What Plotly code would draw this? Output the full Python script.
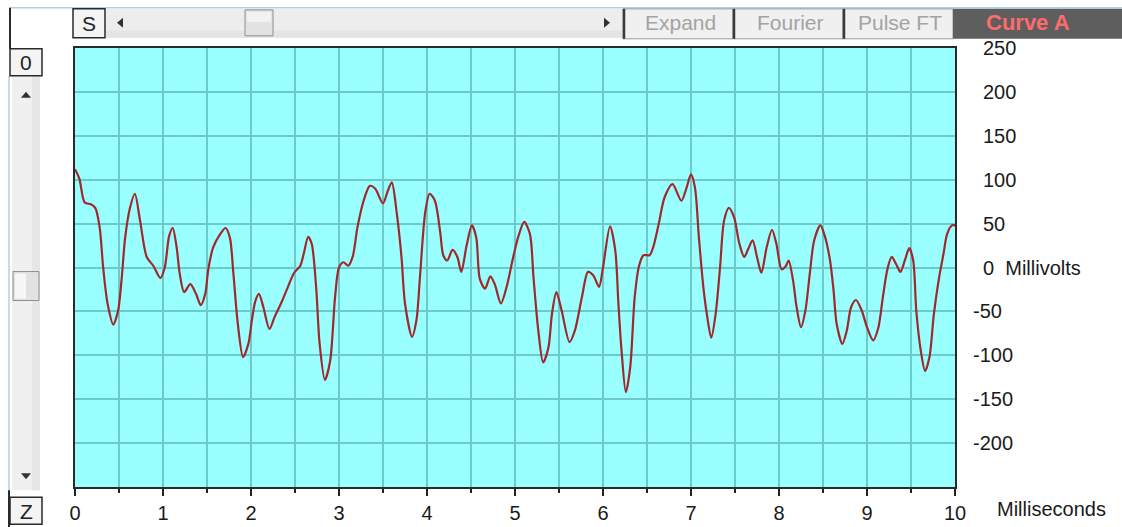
import plotly.graph_objects as go

# ---------------- data ----------------
time_ms = [0.0, 0.05, 0.11, 0.18, 0.23, 0.28, 0.32, 0.37, 0.435, 0.49, 0.53, 0.57, 0.625, 0.68, 0.74,
           0.815, 0.89, 0.97, 1.02, 1.07, 1.11, 1.155, 1.19, 1.24, 1.31, 1.375, 1.43, 1.48, 1.515, 1.57,
           1.65, 1.71, 1.76, 1.80, 1.85, 1.91, 1.97, 2.01, 2.05, 2.09, 2.14, 2.21, 2.27, 2.35, 2.42,
           2.49, 2.56, 2.60, 2.65, 2.69, 2.74, 2.78, 2.84, 2.90, 2.955, 3.0, 3.05, 3.105, 3.155, 3.21,
           3.28, 3.35, 3.41, 3.50, 3.55, 3.60, 3.655, 3.71, 3.75, 3.83, 3.88, 3.92, 3.98, 4.03, 4.09,
           4.15, 4.185, 4.23, 4.29, 4.345, 4.39, 4.45, 4.51, 4.56, 4.60, 4.66, 4.72, 4.77, 4.84, 4.905,
           4.98, 5.04, 5.105, 5.17, 5.21, 5.265, 5.32, 5.38, 5.42, 5.47, 5.53, 5.62, 5.68, 5.76, 5.83,
           5.89, 5.955, 6.0, 6.08, 6.14, 6.175, 6.21, 6.26, 6.31, 6.36, 6.41, 6.46, 6.53, 6.57, 6.63,
           6.70, 6.79, 6.89, 6.95, 7.0, 7.045, 7.09, 7.14, 7.18, 7.23, 7.28, 7.33, 7.375, 7.43, 7.49,
           7.55, 7.605, 7.65, 7.70, 7.75, 7.80, 7.86, 7.92, 7.97, 8.03, 8.08, 8.11, 8.16, 8.20, 8.25,
           8.30, 8.35, 8.40, 8.47, 8.52, 8.58, 8.62, 8.655, 8.72, 8.77, 8.82, 8.875, 8.94, 9.0, 9.07,
           9.13, 9.18, 9.23, 9.28, 9.33, 9.38, 9.43, 9.48, 9.525, 9.56, 9.61, 9.66, 9.71, 9.76, 9.82,
           9.87, 9.91, 9.965, 10.0]
millivolts = [112, 101, 74, 72, 68, 46, 0, -41, -65, -49, -13, 34, 68, 84, 53,
              12, 2, -12, 0, 36, 45, 23, -7, -28, -19, -30, -43, -30, -2, 23,
              38, 45, 34, -7, -64, -102, -87, -60, -38, -30, -45, -70, -56, -39, -22,
              -6, 2, 16, 35, 27, -22, -87, -128, -106, -34, 0, 6, 2, 12, 46,
              76, 93, 90, 73, 86, 97, 63, 12, -41, -79, -60, -11, 63, 84, 76,
              40, 14, 8, 20, 12, -5, 25, 48, 34, -13, -24, -10, -19, -41, -22,
              12, 36, 52, 38, -11, -72, -108, -91, -53, -28, -49, -85, -72, -34, -5,
              -9, -22, 0, 47, 19, -41, -94, -142, -113, -34, 2, 14, 14, 23, 48,
              80, 95, 76, 91, 106, 91, 34, -22, -53, -80, -53, 0, 53, 68, 57,
              27, 12, 21, 31, 12, -6, 23, 43, 27, -2, 2, 8, -15, -45, -68,
              -49, -7, 31, 48, 36, 8, -26, -64, -87, -72, -45, -37, -49, -68, -83,
              -68, -34, -3, 12, 4, -5, 8, 22, 8, -49, -94, -118, -102, -53, -11,
              16, 38, 48, 48]

x_ticks = [0, 1, 2, 3, 4, 5, 6, 7, 8, 9, 10]
y_tick_vals = [250, 200, 150, 100, 50, 0, -50, -100, -150, -200]
y_tick_labels = ["250", "200", "150", "100", "50", "0", "-50", "-100", "-150", "-200"]
y_title = "Millivolts"
x_title = "Milliseconds"
buttons = ["Expand", "Fourier", "Pulse FT"]
curve_name = "Curve A"

# ---------------- layout geometry ----------------
W, H = 1122, 536
SY = H / 527.0
L, R = 75, 955
T, B = round(47 * SY), round(487 * SY)
FONT = "Liberation Sans Narrow, Arial Narrow, Liberation Sans, Arial, sans-serif"


def px(x):
    return (x - L) / (R - L)


def py(y):
    return (B - y * SY) / (B - T)


def ylabel(s):
    s = s if s.startswith("-") else "\u2002" + s
    if s.strip() == "0":
        s = s + "\u00a0\u00a0" + y_title
    return s


fig = go.Figure()
fig.add_trace(go.Scatter(
    x=time_ms, y=millivolts, mode="lines",
    line=dict(color="#A0282A", width=2.2, shape="spline", smoothing=0.8),
    hoverinfo="skip", showlegend=False,
))

shapes = []
annotations = []


def rect(x0, y0, x1, y1, fill, line_color="rgba(0,0,0,0)", lw=0):
    shapes.append(dict(type="rect", xref="paper", yref="paper",
                       x0=px(x0), x1=px(x1), y0=py(y0), y1=py(y1),
                       fillcolor=fill, line=dict(color=line_color, width=lw), layer="above"))


def line(x0, y0, x1, y1, color, lw=1):
    shapes.append(dict(type="line", xref="paper", yref="paper",
                       x0=px(x0), x1=px(x1), y0=py(y0), y1=py(y1),
                       line=dict(color=color, width=lw), layer="above"))


def tri(points, color):
    path = "M " + " L ".join(f"{px(a)},{py(b)}" for a, b in points) + " Z"
    shapes.append(dict(type="path", xref="paper", yref="paper", path=path,
                       fillcolor=color, line=dict(color=color, width=0), layer="above"))


def text(x, y, s, size, color="#222", bold=False, anchor="center"):
    annotations.append(dict(xref="paper", yref="paper", x=px(x), y=py(y), text=(f"<b>{s}</b>" if bold else s),
                            showarrow=False, xanchor=anchor, yanchor="middle",
                            font=dict(family=FONT, size=size, color=color)))


# top edge line
line(10, 7, W, 7, "#B4CDE6", 1.5)
# top scrollbar
rect(106, 8, 622, 37, "#EDEDED")
rect(106, 30, 622, 37, "#E4E4E4")
tri([(117, 22), (123, 17), (123, 27)], "#333")
tri([(610, 22), (604, 17), (604, 27)], "#333")
rect(245, 9, 273, 35, "#E2E2E2", "#8E8E8E", 1)
rect(247, 11, 271, 21, "#F2F2F2")
# S button
rect(73, 8, 105, 37, "#F4F4F4", "#2A2A2A", 1.5)
text(89, 23, "S", 21)
# toolbar buttons
bx = [623, 733, 843, 953]
for i, name in enumerate(buttons):
    rect(bx[i], 8, bx[i + 1], 38, "#F0F0F0", "#9A9A9A", 1)
    line(bx[i] + 1, 8, bx[i] + 1, 38, "#3A3A3A", 2.5)
    text((bx[i] + bx[i + 1]) / 2 + 2, 22, name, 21, "#A3A3A3")
rect(953, 8, W, 38, "#5E5E5E")
text(1028, 22, curve_name, 22, "#FF6B6B", bold=True)

# left scrollbar
line(10, 7, 10, 48, "#2A2A2A", 2)
line(9, 75, 9, 492, "#B4CDE6", 1.5)
rect(12, 75, 40, 490, "#F0F0F0")
rect(32, 75, 40, 490, "#E6E6E6")
tri([(26, 91), (21, 97), (31, 97)], "#333")
tri([(26, 479), (21, 473), (31, 473)], "#333")
rect(13, 271, 39, 300, "#E2E2E2", "#8E8E8E", 1)
rect(15, 273, 26, 298, "#F7F7F7")
# 0 / Z buttons
rect(10, 48, 42, 75, "#F4F4F4", "#2A2A2A", 1.5)
text(26, 62, "0", 21)
line(9, 490, 9, 527, "#2A2A2A", 2)
rect(10, 497, 42, 524, "#F4F4F4", "#2A2A2A", 1.5)
text(26, 511, "Z", 21)

# axis title
text(995, 509, x_title, 20, "#1A1A1A", anchor="left")

fig.update_layout(
    width=W, height=H,
    margin=dict(l=L, r=W - R, t=T, b=H - B, pad=0),
    paper_bgcolor="white",
    plot_bgcolor="#99FFFF",
    shapes=shapes,
    annotations=annotations,
    font=dict(family=FONT, size=20, color="#1A1A1A"),
    xaxis=dict(
        range=[0, 10], tickvals=x_ticks, ticktext=[str(v) for v in x_ticks],
        showgrid=True, gridcolor="#6CCACA", gridwidth=2,
        ticks="outside", ticklen=7, tickwidth=2, tickcolor="#222",
        showline=True, linecolor="#2A2A2A", linewidth=2, mirror=True,
        minor=dict(dtick=0.5, tick0=0, showgrid=True, gridcolor="#6CCACA", gridwidth=2,
                   ticks="outside", ticklen=4, tickwidth=2, tickcolor="#222"),
        zeroline=False, fixedrange=True,
        tickfont=dict(family=FONT, size=20, color="#1A1A1A"),
    ),
    yaxis=dict(
        range=[-250, 250], side="right", tickvals=y_tick_vals,
        ticktext=[ylabel(s) for s in y_tick_labels],
        showgrid=True, gridcolor="#6CCACA", gridwidth=2,
        ticks="", ticklabelstandoff=12,
        showline=True, linecolor="#2A2A2A", linewidth=2, mirror=True,
        zeroline=False, fixedrange=True,
        tickfont=dict(family=FONT, size=20, color="#1A1A1A"),
    ),
)

css_fix = (
    "var d=document.documentElement,b=document.body;"
    "d.style.margin='0';d.style.padding='0';d.style.background='#FFFFFF';"
    "b.style.margin='0';b.style.padding='0';b.style.background='#FFFFFF';"
)
fig.write_html("out.html", config={"displayModeBar": False}, post_script=css_fix)
